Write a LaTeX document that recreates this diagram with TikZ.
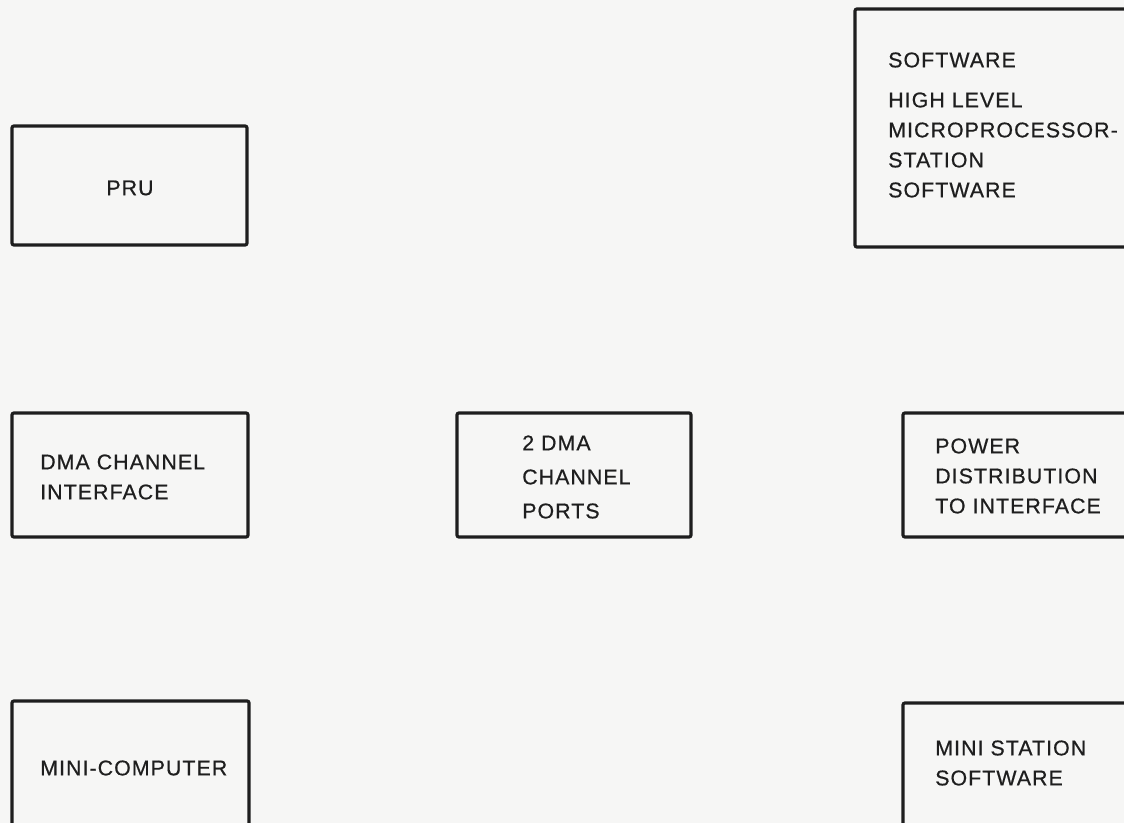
\documentclass[tikz,border=0pt]{standalone}
\usepackage{fontspec}
\usetikzlibrary{fit}
\newfontfamily\lblfont[LetterSpace=5,FakeBold=0.6]{Liberation Sans}
\definecolor{ink}{RGB}{30,30,30}
\definecolor{bg}{RGB}{246,246,245}
\begin{document}
\begin{tikzpicture}[x=0.75pt,y=-0.75pt,
  box/.style={draw=ink, line width=2.4pt, inner sep=0pt, rounded corners=1.5pt},
  lbl/.style={text=ink, font=\lblfont\fontsize{16}{22.5}\selectfont, align=left, inner sep=0pt, anchor=west}]
\useasboundingbox (0,0) rectangle (1124,823);
\clip (0,0) rectangle (1124,823);
\fill[bg] (0,0) rectangle (1124,823);
% boxes
\node[box, fit={(12,126) (247,245)}] (pru) {};
\node[box, fit={(855,9) (1150,247)}] (sw) {};
\node[box, fit={(12,413) (248,537)}] (dma) {};
\node[box, fit={(457,413) (691,537)}] (ports) {};
\node[box, fit={(903,413) (1150,537)}] (power) {};
\node[box, fit={(12,701) (249,850)}] (mini) {};
\node[box, fit={(903,703) (1150,850)}] (ministn) {};
% labels
\node[lbl, anchor=center] (prut) at (130,188) {PRU};
\node[lbl] (swt) at (888,60) {SOFTWARE};
\node[lbl] (swd) at (888,145) {HIGH LEVEL\\MICROPROCESSOR-\\STATION\\SOFTWARE};
\node[lbl] (dmat) at (40,477) {DMA CHANNEL\\INTERFACE};
\node[lbl] (portst) at (522,477) {2 DMA\\[3pt]CHANNEL\\[3pt]PORTS};
\node[lbl] (powert) at (935,476) {POWER\\DISTRIBUTION\\TO INTERFACE};
\node[lbl] (minit) at (40,768) {MINI-COMPUTER};
\node[lbl] (ministnt) at (935,763) {MINI STATION\\SOFTWARE};
\end{tikzpicture}
\end{document}
